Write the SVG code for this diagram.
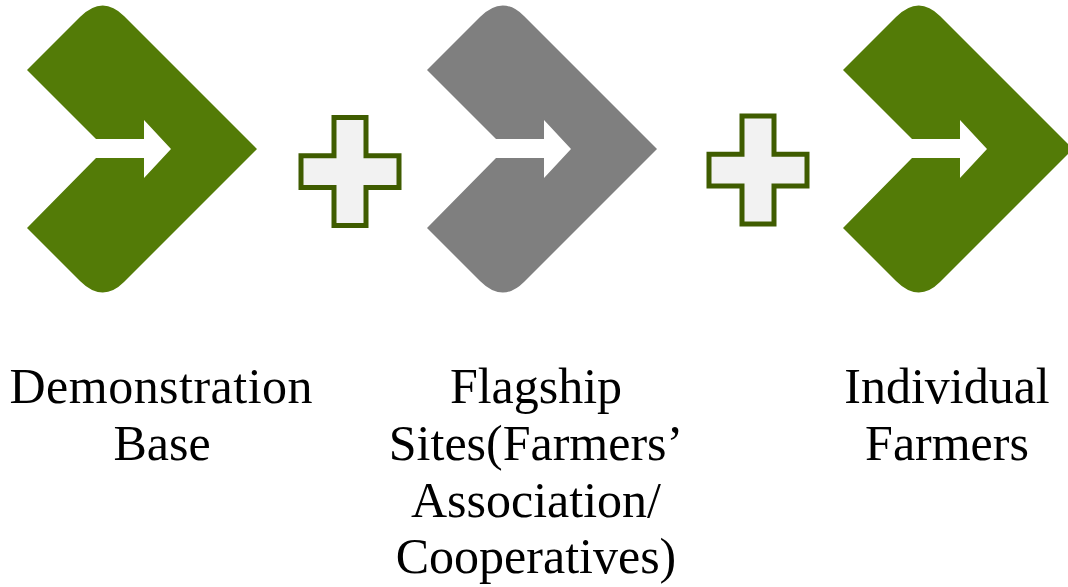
<svg xmlns="http://www.w3.org/2000/svg" xmlns:xlink="http://www.w3.org/1999/xlink" width="1068" height="587" viewBox="0 0 1068 587">
  <style>
    .green { fill: #537B07; }
    .gray { fill: #7F7F7F; }
    .plus { fill: #F2F2F2; stroke: #3F5C00; stroke-width: 5; stroke-linejoin: miter; }
    .label { font-family: "Liberation Serif", "Times New Roman", serif; font-size: 50px; fill: #000000; text-anchor: middle; }
  </style>
  <defs>
    <path id="chevron" d="M 27,70 L 80,17 Q 102.5,-5.5 124,16 L 257,149 L 124,282 Q 102.5,303.5 80,281 L 27,228 L 96,158 L 144,158 L 144,178 L 171,149 L 144,120 L 144,139 L 96,139 Z"/>
    <path id="plusShape" d="M 334,117.5 L 366,117.5 L 366,155.8 L 399,155.8 L 399,187.5 L 366,187.5 L 366,225.5 L 334,225.5 L 334,187.5 L 301,187.5 L 301,155.8 L 334,155.8 Z"/>
  </defs>
  <rect width="1068" height="587" fill="#FFFFFF"/>
  <g id="connectors"/>
  <g id="node-demonstration">
    <use xlink:href="#chevron" href="#chevron" class="green"/>
    <text class="label"><tspan x="161" y="403" textLength="303" lengthAdjust="spacing">Demonstration</tspan><tspan x="162" y="460">Base</tspan></text>
  </g>
  <g id="plus-1">
    <use xlink:href="#plusShape" href="#plusShape" class="plus"/>
  </g>
  <g id="node-flagship">
    <use xlink:href="#chevron" href="#chevron" class="gray" transform="translate(400,0)"/>
    <text class="label"><tspan x="536" y="403">Flagship</tspan><tspan x="536" y="460">Sites(Farmers’</tspan><tspan x="536" y="517">Association/</tspan><tspan x="536" y="573">Cooperatives)</tspan></text>
  </g>
  <g id="plus-2">
    <use xlink:href="#plusShape" href="#plusShape" class="plus" transform="translate(408,-1.5)"/>
  </g>
  <g id="node-individual">
    <use xlink:href="#chevron" href="#chevron" class="green" transform="translate(816,0)"/>
    <text class="label"><tspan x="947" y="403">Individual</tspan><tspan x="947" y="460">Farmers</tspan></text>
  </g>
</svg>
